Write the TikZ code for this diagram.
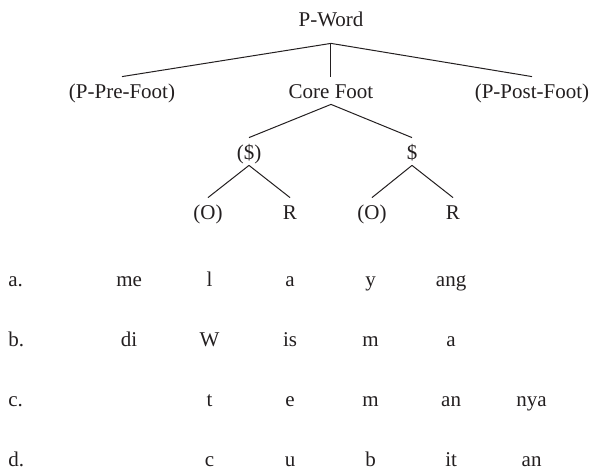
\documentclass[tikz,border=0pt]{standalone}
\usepackage{fontspec}
\setmainfont{Liberation Serif}
\usetikzlibrary{matrix, positioning}
\definecolor{ink}{HTML}{231F20}
\tikzset{
   treenode/.style={inner sep=0pt, text height=11pt, text depth=2.5pt, anchor=base},
   topnode/.style={treenode, text depth=8pt},
   branch/.style={draw=ink, line width=.5pt},
   rowcell/.style={inner sep=0pt, text width=40.25pt, align=center, anchor=base}
}

\begin{document}
\begin{tikzpicture}[x=.5pt, y=-.5pt, font=\fontsize{10.5}{12.6}\selectfont, text=ink]
   \useasboundingbox (0,0) rectangle (591,469);
   % prosodic tree
   \node[topnode] (word) at (331,27) {P-Word};
   \node[treenode] (prefoot) at (122,99) {(P-Pre-Foot)};
   \node[treenode] (core) at (331,99) {Core Foot};
   \node[treenode] (postfoot) at (532,99) {(P-Post-Foot)};
   \node[treenode] (sylA) at (249,160) {(\$)};
   \node[treenode] (sylB) at (412,160) {\$};
   \node[treenode] (onsA) at (208,220) {(O)};
   \node[treenode] (rhyA) at (290,220) {R};
   \node[treenode] (onsB) at (372,220) {(O)};
   \node[treenode] (rhyB) at (453,220) {R};
   \foreach \child in {prefoot, core, postfoot}
      \draw[branch] (word.south) -- (\child.north);
   \foreach \child in {sylA, sylB}
      \draw[branch] (core.south) -- (\child.north);
   \draw[branch] (sylA.south) -- (onsA.north);
   \draw[branch] (sylA.south) -- (rhyA.north);
   \draw[branch] (sylB.south) -- (onsB.north);
   \draw[branch] (sylB.south) -- (rhyB.north);
   % segmented examples
   \matrix (rows) [
       matrix of nodes,
       matrix anchor=rows-1-1.base west,
       row sep={30pt,between origins}, column sep=0pt,
       nodes={rowcell},
       column 1/.style={nodes={align=left}},
       ampersand replacement=\&
   ] at (8,287) {
     a. \& me \& l \& a  \& y \& ang \&     \\
     b. \& di \& W \& is \& m \& a   \&     \\
     c. \&    \& t \& e  \& m \& an  \& nya \\
     d. \&    \& c \& u  \& b \& it  \& an  \\
   };
\end{tikzpicture}
\end{document}
